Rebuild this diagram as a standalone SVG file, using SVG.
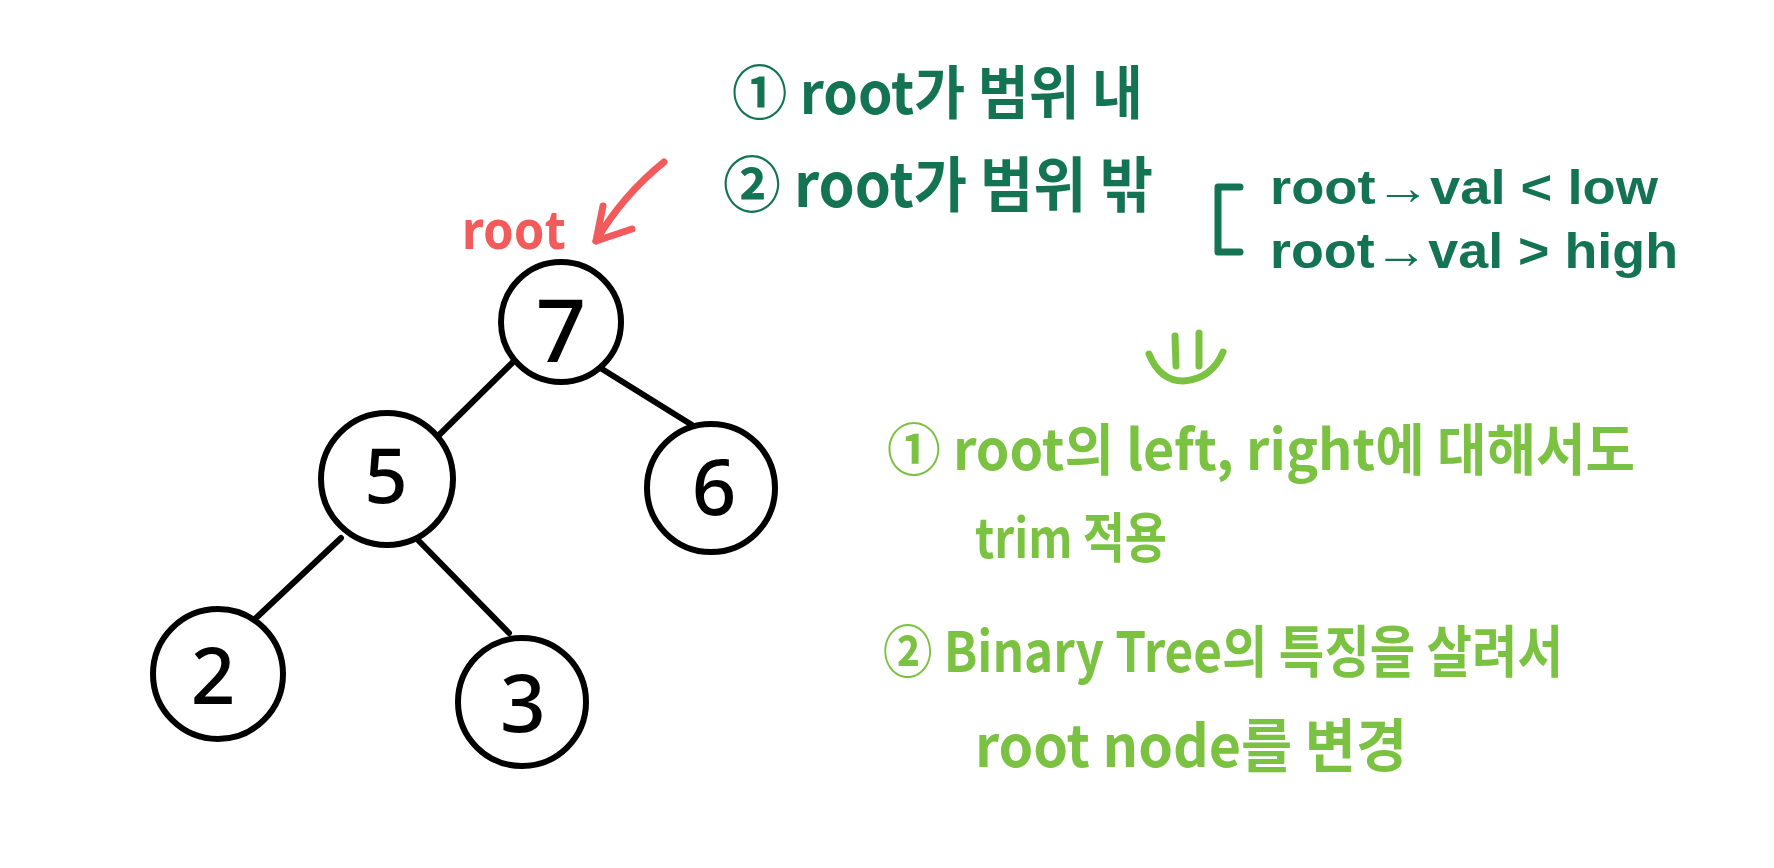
<svg xmlns="http://www.w3.org/2000/svg" width="1774" height="868" viewBox="0 0 1774 868">
<style>
.node circle{fill:#fff;stroke:#000;stroke-width:6}
.node text{font-family:"Noto Sans","Liberation Sans",sans-serif;font-weight:500;fill:#000;text-anchor:middle}
.edge{stroke:#000;stroke-width:6;stroke-linecap:round;fill:none}
.dg{font-family:"Noto Sans CJK KR","Noto Sans",sans-serif;font-weight:700;fill:#137352}
.dgl{font-family:"Liberation Sans","DejaVu Sans",sans-serif;font-weight:700;fill:#137352}
.lg{font-family:"Noto Sans CJK KR","Noto Sans",sans-serif;font-weight:700;fill:#7cc242}
.red{font-family:"Noto Sans","Noto Sans CJK KR",sans-serif;font-weight:700;fill:#f25b5b}
.dgs{stroke:#137352;stroke-width:7;stroke-linecap:round;stroke-linejoin:round;fill:none}
.lgs{stroke:#7cc242;stroke-width:7;stroke-linecap:round;stroke-linejoin:round;fill:none}
.rs{stroke:#f25b5b;stroke-width:7;stroke-linecap:round;stroke-linejoin:round;fill:none}
</style>
<rect width="1774" height="868" fill="#fff"/>
<g id="connectors">
<line class="edge" x1="513" y1="362" x2="434" y2="440"/>
<line class="edge" x1="602" y1="369" x2="692" y2="425"/>
<line class="edge" x1="341" y1="538" x2="256" y2="618"/>
<line class="edge" x1="418" y1="540" x2="509" y2="633"/>
</g>
<g id="node7" class="node"><circle cx="561" cy="322" r="60"/><text x="561" y="362" font-size="88">7</text></g>
<g id="node5" class="node"><circle cx="387" cy="479" r="66"/><text x="386" y="503" font-size="76">5</text></g>
<g id="node6" class="node"><circle cx="711" cy="488" r="64"/><text x="714" y="515" font-size="78">6</text></g>
<g id="node2" class="node"><circle cx="218" cy="674" r="65"/><text x="213" y="704" font-size="78">2</text></g>
<g id="node3" class="node"><circle cx="522" cy="702" r="64"/><text x="523" y="732" font-size="80">3</text></g>
<g id="root-label">
<text class="red" x="462" y="249" font-size="54" textLength="104" lengthAdjust="spacingAndGlyphs">root</text>
<path class="rs" d="M664 162 Q622 196 596 241"/>
<path class="rs" d="M603 206 L596 241 L632 229"/>
</g>
<g id="cases">
<text class="dg" x="732" y="114" font-size="58" textLength="411" lengthAdjust="spacingAndGlyphs">① root가 범위 내</text>
<text class="dg" x="723" y="207" font-size="60" textLength="430" lengthAdjust="spacingAndGlyphs">② root가 범위 밖</text>
<path class="dgs" d="M1240 187 L1218 187 L1218 252 L1240 252"/>
<text class="dgl" x="1270" y="204" font-size="48" textLength="388" lengthAdjust="spacingAndGlyphs">root→val &lt; low</text>
<text class="dgl" x="1270" y="268" font-size="50" textLength="408" lengthAdjust="spacingAndGlyphs">root→val &gt; high</text>
</g>
<g id="down-arrow">
<path class="lgs" d="M1175 336 L1176 366"/>
<path class="lgs" d="M1199 333 L1199 366"/>
<path class="lgs" d="M1149 354 Q1160 381 1183 381 Q1212 379 1223 352"/>
</g>
<g id="solutions">
<text class="lg" x="887" y="470" font-size="56" textLength="748" lengthAdjust="spacingAndGlyphs">① root의 left, right에 대해서도</text>
<text class="lg" x="975" y="558" font-size="54" textLength="192" lengthAdjust="spacingAndGlyphs">trim 적용</text>
<text class="lg" x="883" y="672" font-size="56" textLength="680" lengthAdjust="spacingAndGlyphs">② Binary Tree의 특징을 살려서</text>
<text class="lg" x="975" y="767" font-size="58" textLength="432" lengthAdjust="spacingAndGlyphs">root node를 변경</text>
</g>
</svg>
